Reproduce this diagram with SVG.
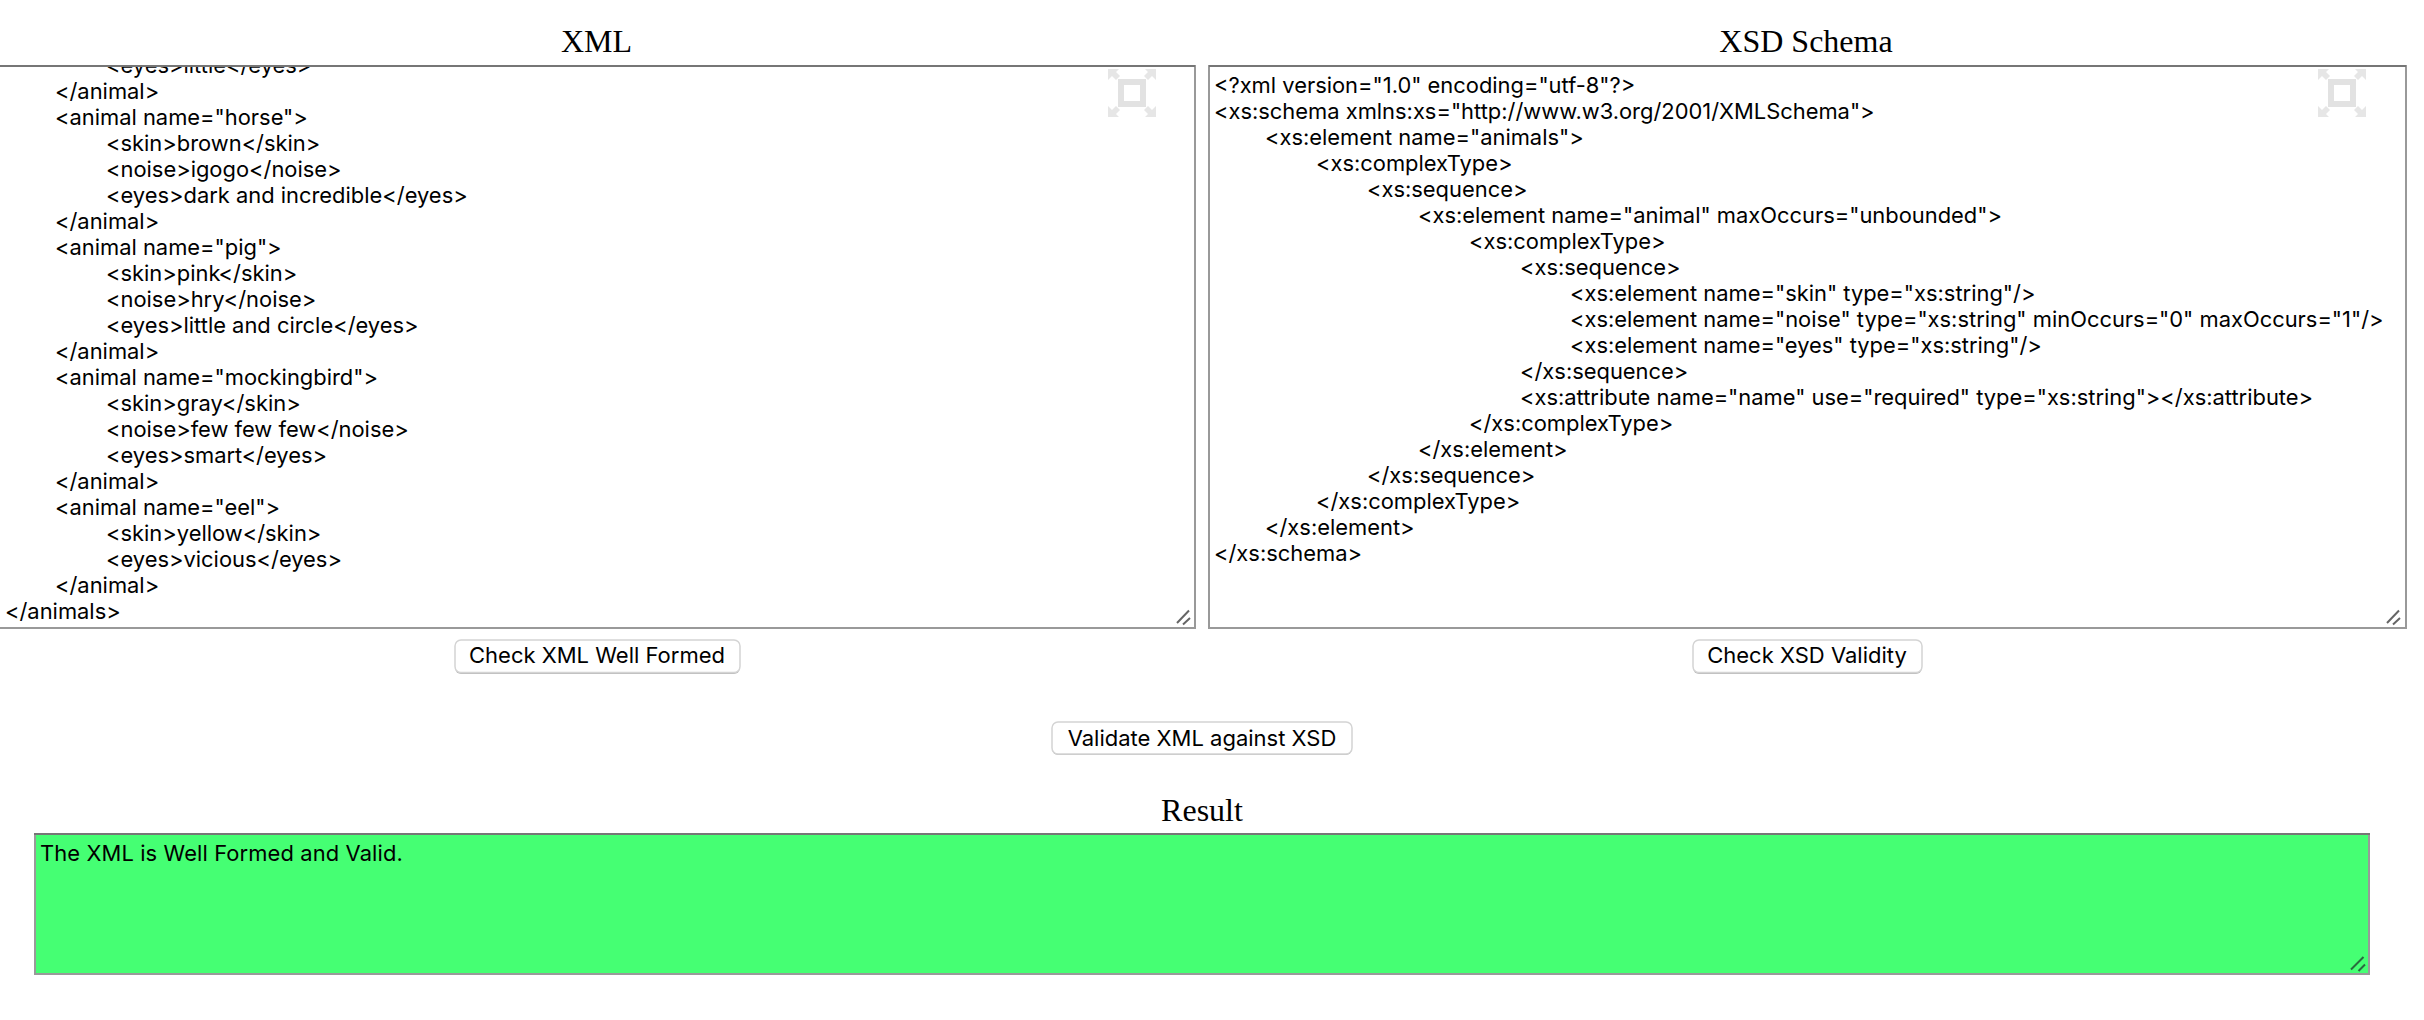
<svg xmlns="http://www.w3.org/2000/svg" width="2424" height="1020" viewBox="0 0 2424 1020">
<style>
.h{font-family:"Liberation Serif",serif;font-size:32px;fill:#000;text-anchor:middle}
.t{font-family:Inter,"Liberation Sans",Arial,sans-serif;font-size:21.9px;fill:#000}
.b{font-family:Inter,"Liberation Sans",sans-serif;font-size:22px;fill:#000;text-anchor:middle}
.box{fill:#fff;stroke:#999;stroke-width:2}
.top{stroke:#767676;stroke-width:2}
.btn{fill:#fff;stroke:#d4d4d4;stroke-width:1.5}
.shadow{fill:#bdbdbd}
.grip{stroke:#666;stroke-width:2;fill:none}
.ic{fill:#e6e6e6}
.sq{fill:none;stroke:#e2e2e2;stroke-width:6}
</style>
<defs>
<filter id="soft" x="-10%" y="-10%" width="120%" height="120%"><feGaussianBlur stdDeviation="0.7"/></filter>
<clipPath id="cx"><rect x="0" y="67" width="1194" height="560"/></clipPath>
<g id="icon" filter="url(#soft)">
<rect class="sq" x="1121" y="82" width="22" height="22"/>
<path class="ic" d="M1108 69h11l-3 3 4 4-4 4-4-4-4 4zM1156 69h-11l3 3-4 4 4 4 4-4 4 4zM1108 117h11l-3-3 4-4-4-4-4 4-4-4zM1156 117h-11l3-3-4-4 4-4 4 4 4-4z"/>
</g>
<g id="grip"><path class="grip" d="M1189 610.5l-12 12.5M1190 618l-7 6.5"/></g>
</defs>
<rect width="2424" height="1020" fill="#fff"/>
<text class="h" x="596.5" y="52">XML</text>
<text class="h" x="1806" y="52">XSD Schema</text>
<g id="xml-editor">
<rect class="box" x="-2" y="66" width="1197" height="562"/>
<path class="top" d="M0 66H1195"/>
<g clip-path="url(#cx)">
<g transform="translate(-1 1)">
<text class="t" x="107" y="72">&lt;eyes&gt;little&lt;/eyes&gt;</text>
<text class="t" x="56" y="98">&lt;/animal&gt;</text>
<text class="t" x="56" y="124">&lt;animal name="horse"&gt;</text>
<text class="t" x="107" y="150">&lt;skin&gt;brown&lt;/skin&gt;</text>
<text class="t" x="107" y="176">&lt;noise&gt;igogo&lt;/noise&gt;</text>
<text class="t" x="107" y="202">&lt;eyes&gt;dark and incredible&lt;/eyes&gt;</text>
<text class="t" x="56" y="228">&lt;/animal&gt;</text>
<text class="t" x="56" y="254">&lt;animal name="pig"&gt;</text>
<text class="t" x="107" y="280">&lt;skin&gt;pink&lt;/skin&gt;</text>
<text class="t" x="107" y="306">&lt;noise&gt;hry&lt;/noise&gt;</text>
<text class="t" x="107" y="332">&lt;eyes&gt;little and circle&lt;/eyes&gt;</text>
<text class="t" x="56" y="358">&lt;/animal&gt;</text>
<text class="t" x="56" y="384">&lt;animal name="mockingbird"&gt;</text>
<text class="t" x="107" y="410">&lt;skin&gt;gray&lt;/skin&gt;</text>
<text class="t" x="107" y="436">&lt;noise&gt;few few few&lt;/noise&gt;</text>
<text class="t" x="107" y="462">&lt;eyes&gt;smart&lt;/eyes&gt;</text>
<text class="t" x="56" y="488">&lt;/animal&gt;</text>
<text class="t" x="56" y="514">&lt;animal name="eel"&gt;</text>
<text class="t" x="107" y="540">&lt;skin&gt;yellow&lt;/skin&gt;</text>
<text class="t" x="107" y="566">&lt;eyes&gt;vicious&lt;/eyes&gt;</text>
<text class="t" x="56" y="592">&lt;/animal&gt;</text>
<text class="t" x="6" y="618">&lt;/animals&gt;</text>
</g>
</g>
<use href="#icon"/>
<use href="#grip"/>
</g>
<g id="xsd-editor">
<rect class="box" x="1209" y="66" width="1197" height="562"/>
<path class="top" d="M1209 66H2406"/>
<g transform="translate(-1 1)">
<text class="t" x="1215" y="92">&lt;?xml version="1.0" encoding="utf-8"?&gt;</text>
<text class="t" x="1215" y="118">&lt;xs:schema xmlns:xs="http://www.w3.org/2001/XMLSchema"&gt;</text>
<text class="t" x="1266" y="144">&lt;xs:element name="animals"&gt;</text>
<text class="t" x="1317" y="170">&lt;xs:complexType&gt;</text>
<text class="t" x="1368" y="196">&lt;xs:sequence&gt;</text>
<text class="t" x="1419" y="222">&lt;xs:element name="animal" maxOccurs="unbounded"&gt;</text>
<text class="t" x="1470" y="248">&lt;xs:complexType&gt;</text>
<text class="t" x="1521" y="274">&lt;xs:sequence&gt;</text>
<text class="t" x="1571" y="300">&lt;xs:element name="skin" type="xs:string"/&gt;</text>
<text class="t" x="1571" y="326">&lt;xs:element name="noise" type="xs:string" minOccurs="0" maxOccurs="1"/&gt;</text>
<text class="t" x="1571" y="352">&lt;xs:element name="eyes" type="xs:string"/&gt;</text>
<text class="t" x="1521" y="378">&lt;/xs:sequence&gt;</text>
<text class="t" x="1521" y="404">&lt;xs:attribute name="name" use="required" type="xs:string"&gt;&lt;/xs:attribute&gt;</text>
<text class="t" x="1470" y="430">&lt;/xs:complexType&gt;</text>
<text class="t" x="1419" y="456">&lt;/xs:element&gt;</text>
<text class="t" x="1368" y="482">&lt;/xs:sequence&gt;</text>
<text class="t" x="1317" y="508">&lt;/xs:complexType&gt;</text>
<text class="t" x="1266" y="534">&lt;/xs:element&gt;</text>
<text class="t" x="1215" y="560">&lt;/xs:schema&gt;</text>
</g>
<use href="#icon" x="1210"/>
<use href="#grip" x="1210"/>
</g>
<g id="btn-xml"><rect class="shadow" x="455" y="642" width="285" height="32" rx="6"/><rect class="btn" x="455" y="640" width="285" height="32.5" rx="6"/><text class="b" x="597" y="663">Check XML Well Formed</text></g>
<g id="btn-xsd"><rect class="shadow" x="1693" y="642" width="229" height="32" rx="6"/><rect class="btn" x="1693" y="640" width="229" height="32.5" rx="6"/><text class="b" x="1807" y="663">Check XSD Validity</text></g>
<g id="btn-validate"><rect class="shadow" x="1052" y="724" width="300" height="31" rx="6"/><rect class="btn" x="1052" y="722" width="300" height="32" rx="6"/><text class="b" x="1202" y="746">Validate XML against XSD</text></g>
<text class="h" x="1202" y="821">Result</text>
<g id="result">
<rect x="35" y="834" width="2334" height="140" fill="#45ff73" stroke="#999" stroke-width="2"/>
<path class="top" d="M34 834H2370"/>
<text class="t" x="40" y="861" letter-spacing="0.12">The XML is Well Formed and Valid.</text>
<path d="M2363.5 957l-12.5 12.5M2365 964.5l-6.5 6.5" fill="none" stroke="#2a6a3e" stroke-width="2"/>
</g>
<g id="connectors"/>
</svg>
